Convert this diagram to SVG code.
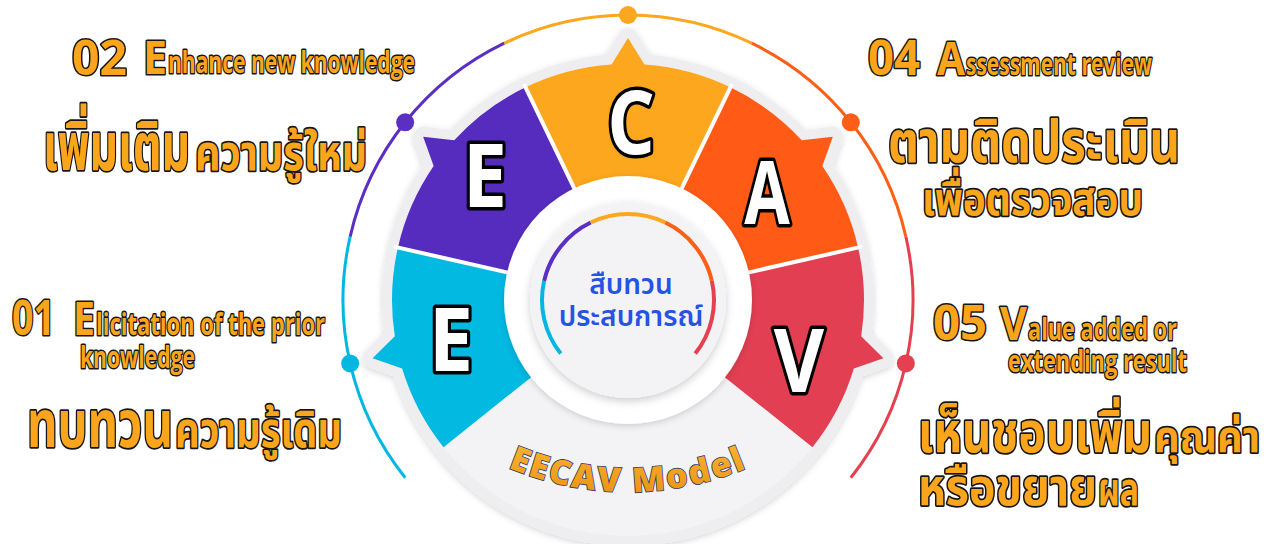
<svg xmlns="http://www.w3.org/2000/svg" xmlns:xlink="http://www.w3.org/1999/xlink" width="1281" height="544" viewBox="0 0 1281 544">
  <defs>
    <style>
      .ring { fill: none; stroke-width: 3; }
      .inarc { fill: none; stroke-width: 4; }
      .halo { fill: #eeeef0; stroke: #eeeef0; stroke-width: 20; stroke-linejoin: round; }
      .sep { stroke: #ffffff; stroke-width: 4; }
      .big { font-family: "Open Sans", "Liberation Sans", sans-serif; font-weight: 700; font-size: 88px; fill: #ffffff; stroke: #000000; stroke-width: 7; paint-order: stroke; stroke-linejoin: round; text-anchor: middle; }
      .lat { font-family: "Open Sans", "Liberation Sans", sans-serif; font-weight: 700; fill: #fba51c; stroke: #161616; stroke-width: 3; paint-order: stroke; stroke-linejoin: round; }
      .th { font-family: "Noto Sans Thai", "Noto Sans Thai UI", "Noto Looped Thai", Loma, Garuda, "Noto Sans", sans-serif; font-weight: 700; fill: #fba51c; stroke: #161616; stroke-width: 3.5; paint-order: stroke; stroke-linejoin: round; }
      .ctr { font-family: "Noto Sans Thai", "Noto Sans Thai UI", Loma, Garuda, "Noto Sans", sans-serif; font-weight: 600; font-size: 28px; fill: #2653e3; text-anchor: middle; }
      .model { font-family: "Open Sans", "Liberation Sans", sans-serif; font-weight: 800; font-size: 34px; letter-spacing: 2px; fill: url(#gold); stroke: #223c6e; stroke-width: 1.6; paint-order: stroke; }
    </style>
    <linearGradient id="gold" x1="0" y1="0" x2="0" y2="1">
      <stop offset="0" stop-color="#fdb833"/>
      <stop offset="1" stop-color="#e98f10"/>
    </linearGradient>
    <filter id="soft" x="-20%" y="-20%" width="140%" height="140%">
      <feDropShadow dx="0" dy="2" stdDeviation="3" flood-color="#000" flood-opacity="0.16"/>
    </filter>
    <filter id="disc" x="-30%" y="-30%" width="160%" height="160%">
      <feDropShadow dx="0" dy="3" stdDeviation="4" flood-color="#000" flood-opacity="0.2"/>
    </filter>
    <!-- wheel sectors, centre (628,300), inner r 123, outer r 236 -->
    <path id="p-c" d="M 574.63 189.18 L 525.60 87.37 A 236 236 0 0 1 611.54 64.57 L 628 38 L 644.46 64.57 A 236 236 0 0 1 730.40 87.37 L 681.37 189.18 A 123 123 0 0 0 574.63 189.18 Z"/>
    <path id="p-e2" d="M 508.08 272.63 L 397.92 247.49 A 236 236 0 0 1 433.66 166.10 L 423.16 136.65 L 454.18 140.37 A 236 236 0 0 1 525.60 87.37 L 574.63 189.18 A 123 123 0 0 0 508.08 272.63 Z"/>
    <path id="p-e1" d="M 531.83 376.69 L 443.49 447.14 A 236 236 0 0 1 402.14 368.44 L 372.57 358.30 L 394.81 336.32 A 236 236 0 0 1 397.92 247.49 L 508.08 272.63 A 123 123 0 0 0 531.83 376.69 Z"/>
    <path id="p-a" d="M 681.37 189.18 L 730.40 87.37 A 236 236 0 0 1 801.82 140.37 L 832.84 136.65 L 822.34 166.10 A 236 236 0 0 1 858.08 247.49 L 747.92 272.63 A 123 123 0 0 0 681.37 189.18 Z"/>
    <path id="p-v" d="M 747.92 272.63 L 858.08 247.49 A 236 236 0 0 1 861.19 336.32 L 883.43 358.30 L 853.86 368.44 A 236 236 0 0 1 812.51 447.14 L 724.17 376.69 A 123 123 0 0 0 747.92 272.63 Z"/>
    <path id="p-m" d="M 724.17 376.69 L 812.51 447.14 A 236 236 0 0 1 443.49 447.14 L 531.83 376.69 A 123 123 0 0 0 724.17 376.69 Z"/>
    <path id="model-arc" d="M 429.4 419.7 A 309 309 0 0 0 826.6 419.7"/>
  </defs>

  <rect width="1281" height="544" fill="#ffffff"/>

  <!-- outer guide ring with step dots -->
  <g id="connectors">
    <path class="ring" stroke="#03b7e0" d="M 405.18 477.69 A 285 285 0 0 1 350.15 236.58"/>
    <path class="ring" stroke="#5a2fc2" d="M 350.15 236.58 A 285 285 0 0 1 504.34 43.22"/>
    <path class="ring" stroke="#fca71e" d="M 504.34 43.22 A 285 285 0 0 1 751.66 43.22"/>
    <path class="ring" stroke="#ff5e17" d="M 751.66 43.22 A 285 285 0 0 1 905.85 236.58"/>
    <path class="ring" stroke="#e4404f" d="M 905.85 236.58 A 285 285 0 0 1 850.82 477.69"/>
    <circle cx="350.15" cy="363.42" r="9" fill="#03b7e0"/>
    <circle cx="405.18" cy="122.31" r="9" fill="#5a2fc2"/>
    <circle cx="628" cy="15" r="9" fill="#fca71e"/>
    <circle cx="850.82" cy="122.31" r="9" fill="#ff5e17"/>
    <circle cx="905.85" cy="363.42" r="9" fill="#e4404f"/>
  </g>

  <!-- light rim around the wheel -->
  <g id="rim" filter="url(#soft)">
    <use href="#p-c" class="halo"/>
    <use href="#p-e2" class="halo"/>
    <use href="#p-e1" class="halo"/>
    <use href="#p-a" class="halo"/>
    <use href="#p-v" class="halo"/>
    <use href="#p-m" class="halo"/>
  </g>

  <g id="node-model">
    <use href="#p-m" fill="#f3f3f5"/>
    <text class="model"><textPath href="#model-arc" startOffset="50%" text-anchor="middle">EECAV Model</textPath></text>
  </g>

  <g id="node-e1">
    <use href="#p-e1" fill="#02b9e2"/>
    <text class="big" transform="translate(451 371) scale(0.9 1)">E</text>
  </g>

  <g id="node-e2">
    <use href="#p-e2" fill="#562cbf"/>
    <text class="big" transform="translate(485 207) scale(0.9 1)">E</text>
  </g>

  <g id="node-c">
    <use href="#p-c" fill="#fca71d"/>
    <text class="big" transform="translate(631 154) scale(0.85 1)">C</text>
  </g>

  <g id="node-a">
    <use href="#p-a" fill="#ff5b16"/>
    <text class="big" transform="translate(767 224) scale(0.75 1)">A</text>
  </g>

  <g id="node-v">
    <use href="#p-v" fill="#e33f52"/>
    <text class="big" transform="translate(799 392) scale(0.88 1)">V</text>
  </g>

  <!-- thin white gaps between coloured sectors -->
  <g id="gaps">
    <line class="sep" x1="574.63" y1="189.18" x2="523.86" y2="83.77"/>
    <line class="sep" x1="681.37" y1="189.18" x2="732.14" y2="83.77"/>
    <line class="sep" x1="508.08" y1="272.63" x2="394.02" y2="246.60"/>
    <line class="sep" x1="747.92" y1="272.63" x2="861.98" y2="246.60"/>
  </g>

  <!-- hub -->
  <g id="node-center">
    <circle cx="628" cy="300" r="124" fill="#ffffff" filter="url(#soft)"/>
    <circle cx="628" cy="300" r="98" fill="#f3f3f5" filter="url(#disc)"/>
    <path class="inarc" stroke="#03b7e0" d="M 560.76 353.62 A 86 86 0 0 1 544.16 280.86"/>
    <path class="inarc" stroke="#5a2fc2" d="M 544.16 280.86 A 86 86 0 0 1 590.69 222.52"/>
    <path class="inarc" stroke="#fca71e" d="M 590.69 222.52 A 86 86 0 0 1 665.31 222.52"/>
    <path class="inarc" stroke="#ff5e17" d="M 665.31 222.52 A 86 86 0 0 1 711.84 280.86"/>
    <path class="inarc" stroke="#e4404f" d="M 711.84 280.86 A 86 86 0 0 1 695.24 353.62"/>
    <text class="ctr" x="631" y="294">สืบทวน</text>
    <text class="ctr" x="631" y="326">ประสบการณ์</text>
  </g>

  <!-- step captions -->
  <g id="label-02">
    <text class="lat"><tspan x="72" y="75" font-size="48" textLength="55" lengthAdjust="spacingAndGlyphs">02</tspan><tspan x="143" y="74" font-size="46" textLength="24" lengthAdjust="spacingAndGlyphs">E</tspan><tspan x="168" y="73" font-size="30" textLength="247" lengthAdjust="spacingAndGlyphs">nhance new knowledge</tspan></text>
    <text class="th"><tspan x="43" y="170" font-size="68" textLength="147" lengthAdjust="spacingAndGlyphs">เพิ่มเติม</tspan><tspan x="195" y="170" font-size="50" textLength="172" lengthAdjust="spacingAndGlyphs">ความรู้ใหม่</tspan></text>
  </g>

  <g id="label-04">
    <text class="lat"><tspan x="868" y="75" font-size="48" textLength="52" lengthAdjust="spacingAndGlyphs">04</tspan><tspan x="937" y="75" font-size="46" textLength="28" lengthAdjust="spacingAndGlyphs">A</tspan><tspan x="966" y="75" font-size="30" textLength="186" lengthAdjust="spacingAndGlyphs">ssessment review</tspan></text>
    <text class="th" x="888" y="162" font-size="59" textLength="292" lengthAdjust="spacingAndGlyphs">ตามติดประเมิน</text>
    <text class="th" x="922" y="215" font-size="46" textLength="221" lengthAdjust="spacingAndGlyphs">เพื่อตรวจสอบ</text>
  </g>

  <g id="label-01">
    <text class="lat"><tspan x="12" y="335" font-size="48" textLength="43" lengthAdjust="spacingAndGlyphs">01</tspan><tspan x="73" y="335" font-size="46" textLength="22" lengthAdjust="spacingAndGlyphs">E</tspan><tspan x="96" y="335" font-size="30" textLength="229" lengthAdjust="spacingAndGlyphs">licitation of the prior</tspan></text>
    <text class="lat" x="80" y="368" font-size="30" textLength="115" lengthAdjust="spacingAndGlyphs">knowledge</text>
    <text class="th"><tspan x="27" y="447" font-size="65" textLength="146" lengthAdjust="spacingAndGlyphs">ทบทวน</tspan><tspan x="175" y="447" font-size="50" textLength="167" lengthAdjust="spacingAndGlyphs">ความรู้เดิม</tspan></text>
  </g>

  <g id="label-05">
    <text class="lat"><tspan x="933" y="340" font-size="48" textLength="54" lengthAdjust="spacingAndGlyphs">05</tspan><tspan x="1000" y="340" font-size="46" textLength="27" lengthAdjust="spacingAndGlyphs">V</tspan><tspan x="1028" y="340" font-size="30" textLength="149" lengthAdjust="spacingAndGlyphs">alue added or</tspan></text>
    <text class="lat" x="1008" y="372" font-size="30" textLength="179" lengthAdjust="spacingAndGlyphs">extending result</text>
    <text class="th"><tspan x="918" y="452" font-size="56" textLength="234" lengthAdjust="spacingAndGlyphs">เห็นชอบเพิ่ม</tspan><tspan x="1154" y="452" font-size="44" textLength="106" lengthAdjust="spacingAndGlyphs">คุณค่า</tspan></text>
    <text class="th"><tspan x="918" y="505" font-size="52" textLength="179" lengthAdjust="spacingAndGlyphs">หรือขยาย</tspan><tspan x="1098" y="505" font-size="46" textLength="41" lengthAdjust="spacingAndGlyphs">ผล</tspan></text>
  </g>
</svg>
